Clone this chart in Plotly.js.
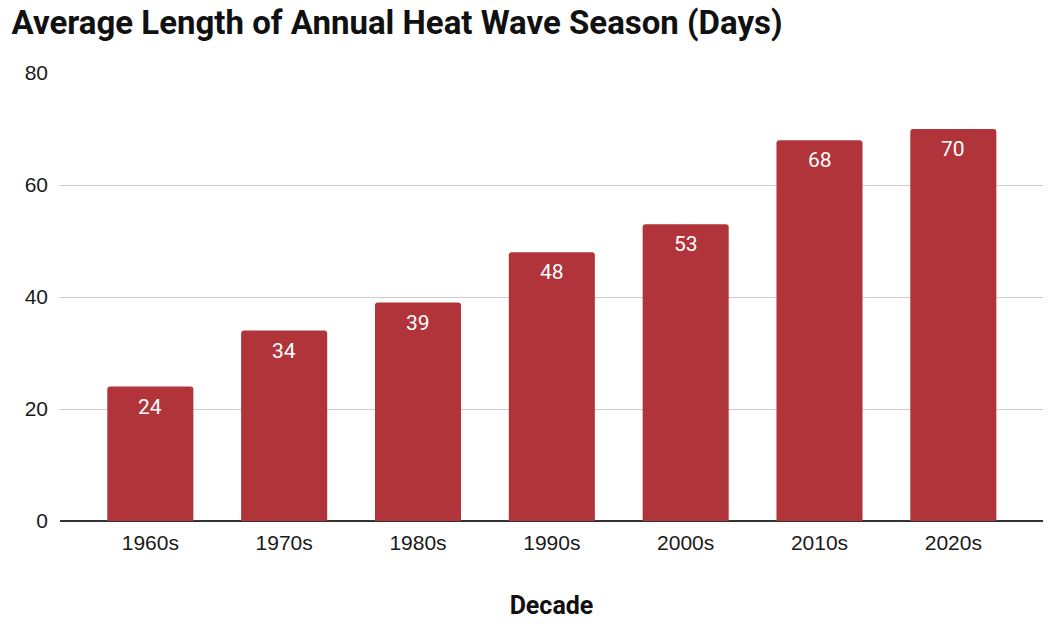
<!DOCTYPE html>
<html>
<head>
<meta charset="utf-8">
<script src="https://cdn.plot.ly/plotly-3.0.1.min.js"></script>
<style>html,body{margin:0;padding:0;background:#fff;}#chart{width:1050px;height:624px;}</style>
</head>
<body>
<div id="chart"></div>
<script>
const decades = ["1960s","1970s","1980s","1990s","2000s","2010s","2020s"];
const days = [24, 34, 39, 48, 53, 68, 70];
const yTicks = [0, 20, 40, 60, 80];

const trace = {
  type: "bar",
  x: decades,
  y: days,
  marker: {color: "#b0343a"},
  cliponaxis: false,
  hoverinfo: "none"
};

const labels = decades.map((d, i) => ({
  x: d, y: days[i], xref: "x", yref: "y",
  text: String(days[i]),
  showarrow: false,
  yanchor: "top", xanchor: "center",
  yshift: -6,
  font: {color: "#ffffff", size: 21, family: "Roboto, Arial, sans-serif"}
}));

const layout = {
  width: 1050, height: 624,
  margin: {l: 60, r: 7, t: 72.5, b: 102.5},
  paper_bgcolor: "#fff", plot_bgcolor: "#fff",
  bargap: 0.357,
  barcornerradius: 3,
  showlegend: false,
  font: {family: "Arial, 'Liberation Sans', sans-serif", color: "#222"},
  title: {
    text: "<b>Average Length of Annual Heat Wave Season (Days)</b>",
    x: 0.011, xanchor: "left", xref: "container",
    y: 0.964, yanchor: "middle", yref: "container",
    font: {size: 33, color: "#111", family: "Roboto, Arial, sans-serif"}
  },
  xaxis: {
    type: "category",
    range: [-0.675, 6.67],
    showgrid: false, zeroline: false, showline: false,
    ticks: "", ticklabelstandoff: 7,
    tickfont: {size: 21, color: "#1a1a1a", family: "Arial, 'Liberation Sans', sans-serif"},
    title: {text: "<b>Decade</b>", font: {size: 25, color: "#111", family: "Roboto, Arial, sans-serif"}, standoff: 43}
  },
  yaxis: {
    range: [0, 80],
    tickvals: yTicks, ticktext: yTicks.map(String),
    showgrid: true, gridcolor: "#cccccc", gridwidth: 1,
    zeroline: true, zerolinecolor: "#333", zerolinewidth: 1.6,
    showline: false, ticks: "", ticklabelstandoff: 11,
    tickfont: {size: 21, color: "#1a1a1a", family: "Arial, 'Liberation Sans', sans-serif"}
  },
  annotations: labels
};

Plotly.newPlot("chart", [trace], layout, {displayModeBar: false, staticPlot: true});
</script>
</body>
</html>
